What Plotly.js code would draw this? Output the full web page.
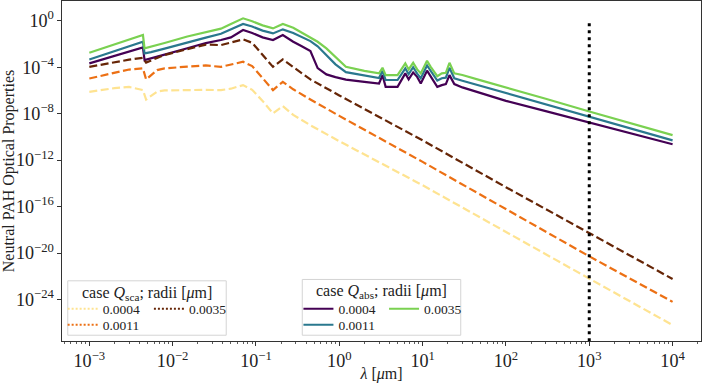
<!DOCTYPE html>
<html>
<head>
<meta charset="utf-8">
<script src="https://cdn.plot.ly/plotly-3.0.1.min.js"></script>
<style>
  html, body { margin: 0; padding: 0; background: #fff; }
  #plotDiv { width: 702px; height: 383px; }
</style>
</head>
<body>
<div id="plotDiv"></div>
<script>
// wavelengths in micron
const lamAbs = [0.001, 0.002, 0.003, 0.0044, 0.0046, 0.0055, 0.008, 0.015, 0.025, 0.038,
  0.05, 0.07, 0.09, 0.12, 0.16, 0.21, 0.28, 0.35, 0.45, 0.55,
  0.7, 0.9, 1.2, 2, 3, 3.3, 3.6, 5, 6.2, 6.8,
  7.7, 8.6, 9.5, 11.3, 12.5, 15, 17, 19, 21, 24,
  30, 50, 100, 300, 1000, 3000, 10000];
const lamSca = [0.001, 0.002, 0.003, 0.0044, 0.0048, 0.0065, 0.008, 0.015, 0.025, 0.038,
  0.05, 0.07, 0.09, 0.12, 0.16, 0.21, 0.28, 0.45, 1, 10,
  100, 1000, 10000];

// values, as log10
const qabs0004 = [-3.67, -3.04, -2.64, -2.29, -3.39, -3.25, -2.92, -2.37, -1.92, -1.66,
  -1.43, -0.8, -1.05, -1.43, -1.66, -1.23, -1.81, -2.18, -2.6, -4.08,
  -4.62, -4.85, -5.07, -5.26, -5.4, -4.68, -5.69, -5.69, -4.53, -5.05,
  -4.45, -4.83, -5.4, -4.3, -4.83, -5.69, -5.54, -5.45, -4.68, -5.45,
  -5.74, -6.26, -6.9, -7.78, -8.78, -9.66, -10.63];
const qabs0011 = [-3.33, -2.6, -2.15, -1.81, -2.81, -2.7, -2.4, -1.85, -1.45, -1.12,
  -0.75, -0.28, -0.5, -0.85, -1.09, -0.74, -1.05, -1.4, -1.75, -2.2,
  -3.0, -3.75, -4.42, -4.7, -4.93, -4.31, -5.1, -5.1, -4.1, -4.6,
  -4.0, -4.55, -4.95, -3.85, -4.35, -5.15, -4.95, -4.9, -4.05, -4.95,
  -5.16, -5.61, -6.2, -7.18, -8.28, -9.22, -10.3];
const qabs0035 = [-2.76, -2.05, -1.6, -1.23, -2.38, -2.25, -1.92, -1.36, -0.95, -0.68,
  -0.28, 0.21, -0.05, -0.4, -0.66, -0.28, -0.6, -1.0, -1.38, -1.81,
  -2.38, -3.1, -3.97, -4.31, -4.53, -4.05, -4.68, -4.68, -3.67, -4.19,
  -3.62, -4.19, -4.53, -3.45, -3.97, -4.77, -4.53, -4.48, -3.62, -4.53,
  -4.67, -5.13, -5.73, -6.72, -7.81, -8.78, -9.85];

const qsca0004 = [-6.12, -5.8, -5.7, -5.97, -6.78, -6.1, -6.0, -5.95, -5.95, -5.97,
  -5.85, -5.54, -5.95, -6.9, -7.98, -7.35, -8.1, -9.0, -10.37, -14.16,
  -18.2, -22.2, -26.2];
const qsca0011 = [-4.97, -4.45, -4.2, -4.1, -5.05, -4.25, -4.1, -3.95, -3.85, -3.97,
  -3.8, -3.53, -3.9, -4.9, -5.97, -5.26, -5.9, -6.78, -8.19, -12.15,
  -16.25, -20.28, -24.2];
const qsca0035 = [-3.97, -3.55, -3.35, -3.2, -3.6, -3.2, -2.95, -2.45, -2.05, -2.1,
  -1.9, -1.6, -1.9, -2.9, -3.97, -3.33, -4.0, -5.05, -6.43, -10.3,
  -14.33, -18.28, -22.23];

const radii = ["0.0004", "0.0011", "0.0035"];
const absColors = ["#440154", "#2a788e", "#7ad151"];
const scaColors = ["#fee391", "#ec7014", "#662506"];

const cutLam = [1000, 1000];
const cutQ = [1e-30, 1];

const xTickAlias = { "1": "10<sup>0</sup>", "10": "10<sup>1</sup>" };
const yTickAlias = { "1": "10<sup>0</sup>" };

const toLin = (arr) => arr.map((v) => Math.pow(10, v));
const font = "Liberation Serif, Times New Roman, serif";

const absData = [qabs0004, qabs0011, qabs0035];
const scaData = [qsca0004, qsca0011, qsca0035];

const traces = [];
absData.forEach((d, i) => {
  traces.push({
    x: lamAbs, y: toLin(d), type: "scatter", mode: "lines",
    line: { color: absColors[i], width: 2.2 }, showlegend: false, hoverinfo: "skip",
  });
});
scaData.forEach((d, i) => {
  traces.push({
    x: lamSca, y: toLin(d), type: "scatter", mode: "lines",
    line: { color: scaColors[i], width: 2.2, dash: "8px,3.5px" }, showlegend: false, hoverinfo: "skip",
  });
});
traces.push({
  x: cutLam, y: cutQ, type: "scatter", mode: "lines",
  line: { color: "#000", width: 3, dash: "3px,4px" }, showlegend: false, hoverinfo: "skip",
});

// legend entries: one small legend per row so the layout mimics matplotlib's 2 columns
const scaLegends = ["legend", "legend2", "legend3"];
const absLegends = ["legend4", "legend5", "legend6"];
radii.forEach((r, i) => {
  traces.push({
    x: [null], y: [null], type: "scatter", mode: "lines", name: r,
    line: { color: scaColors[i], width: 2, dash: "2px,2px" }, legend: scaLegends[i],
  });
  traces.push({
    x: [null], y: [null], type: "scatter", mode: "lines", name: r,
    line: { color: absColors[i], width: 2 }, legend: absLegends[i],
  });
});

const legendBase = (x, y) => ({
  x: x, y: y, xanchor: "left", yanchor: "middle",
  bgcolor: "rgba(0,0,0,0)", borderwidth: 0,
  font: { family: font, size: 13.5, color: "#222" },
});

const layout = {
  width: 702,
  height: 383,
  margin: { l: 62, r: 1, t: 1, b: 42 },
  paper_bgcolor: "#fff",
  plot_bgcolor: "#fff",
  font: { family: font, size: 14, color: "#222" },
  xaxis: {
    type: "log",
    range: [-3.328, 4.341],
    dtick: 1,
    exponentformat: "power",
    labelalias: xTickAlias,
    ticks: "outside", ticklen: 4, tickwidth: 1, tickcolor: "#333",
    minor: { ticks: "outside", ticklen: 2, tickwidth: 0.8, tickcolor: "#333", dtick: "D1", showgrid: false },
    showline: true, linecolor: "#333", linewidth: 1.2, mirror: true,
    showgrid: false, zeroline: false,
    tickfont: { family: font, size: 14.5 },
    title: { text: "<i>λ</i> [<i>μ</i>m]", font: { family: font, size: 16 }, standoff: 2 },
  },
  yaxis: {
    type: "log",
    range: [-27.57, 1.7],
    tick0: 0,
    dtick: 4,
    exponentformat: "power",
    labelalias: yTickAlias,
    ticks: "outside", ticklen: 4, tickwidth: 1, tickcolor: "#333",
    showline: true, linecolor: "#333", linewidth: 1.2, mirror: true,
    showgrid: false, zeroline: false,
    tickfont: { family: font, size: 14.5 },
    title: { text: "Neutral PAH Optical Properties", font: { family: font, size: 16 }, standoff: 4 },
  },
  legend: legendBase(0.001, 0.094),
  legend2: legendBase(0.001, 0.047),
  legend3: legendBase(0.136, 0.094),
  legend4: legendBase(0.370, 0.094),
  legend5: legendBase(0.370, 0.047),
  legend6: legendBase(0.504, 0.094),
  shapes: [
    { type: "rect", xref: "paper", yref: "paper", x0: 0.009, x1: 0.257, y0: 0.017, y1: 0.177,
      line: { color: "#d4d4d4", width: 1 }, fillcolor: "rgba(255,255,255,0.8)", layer: "above" },
    { type: "rect", xref: "paper", yref: "paper", x0: 0.376, x1: 0.624, y0: 0.017, y1: 0.181,
      line: { color: "#d4d4d4", width: 1 }, fillcolor: "rgba(255,255,255,0.8)", layer: "above" },
  ],
  annotations: [
    { xref: "paper", yref: "paper", x: 0.133, y: 0.141, xanchor: "center", yanchor: "middle", showarrow: false,
      text: "case <i>Q</i><sub>sca</sub>; radii [<i>μ</i>m]", font: { family: font, size: 16, color: "#222" } },
    { xref: "paper", yref: "paper", x: 0.500, y: 0.146, xanchor: "center", yanchor: "middle", showarrow: false,
      text: "case <i>Q</i><sub>abs</sub>; radii [<i>μ</i>m]", font: { family: font, size: 16, color: "#222" } },
  ],
};

Plotly.newPlot("plotDiv", traces, layout, { staticPlot: true });
</script>
</body>
</html>
